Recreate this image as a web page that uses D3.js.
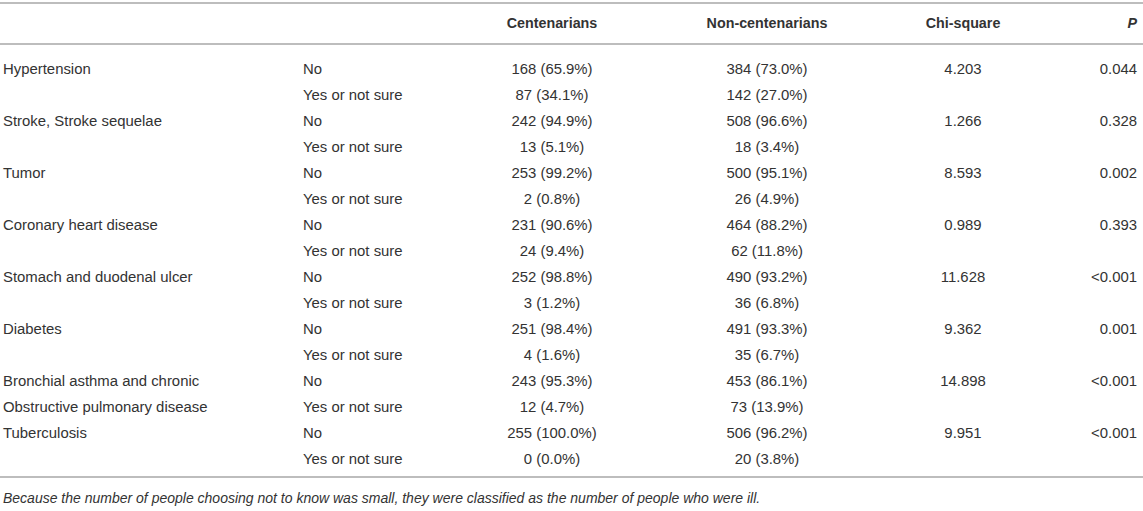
<!DOCTYPE html>
<html><head><meta charset="utf-8">
<script src="https://cdn.jsdelivr.net/npm/d3@7"></script>
<style>
html,body{margin:0;padding:0;background:#fff;}
svg{display:block;font-family:"Liberation Sans",Arial,Helvetica,sans-serif;}
</style></head><body>
<svg id="c" width="1143" height="511"></svg>
<script>
const headers = ["", "", "Centenarians", "Non-centenarians", "Chi-square", "P"];
const diseases = ["Hypertension","Stroke, Stroke sequelae","Tumor","Coronary heart disease","Stomach and duodenal ulcer","Diabetes","Bronchial asthma and chronic","Tuberculosis"];
const diseaseSecondLine = ["","","","","","","Obstructive pulmonary disease",""];
const answers = ["No","Yes or not sure"];
const centNo = ["168 (65.9%)","242 (94.9%)","253 (99.2%)","231 (90.6%)","252 (98.8%)","251 (98.4%)","243 (95.3%)","255 (100.0%)"];
const centYes = ["87 (34.1%)","13 (5.1%)","2 (0.8%)","24 (9.4%)","3 (1.2%)","4 (1.6%)","12 (4.7%)","0 (0.0%)"];
const nonNo = ["384 (73.0%)","508 (96.6%)","500 (95.1%)","464 (88.2%)","490 (93.2%)","491 (93.3%)","453 (86.1%)","506 (96.2%)"];
const nonYes = ["142 (27.0%)","18 (3.4%)","26 (4.9%)","62 (11.8%)","36 (6.8%)","35 (6.7%)","73 (13.9%)","20 (3.8%)"];
const chiSquare = ["4.203","1.266","8.593","0.989","11.628","9.362","14.898","9.951"];
const pValues = ["0.044","0.328","0.002","0.393","<0.001","0.001","<0.001","<0.001"];
const footnote = "Because the number of people choosing not to know was small, they were classified as the number of people who were ill.";

// build rows
const rows = [];
diseases.forEach((d,i)=>{
  rows.push([d, answers[0], centNo[i], nonNo[i], chiSquare[i], pValues[i]]);
  rows.push([diseaseSecondLine[i], answers[1], centYes[i], nonYes[i], "", ""]);
});

const svg = d3.select("#c");
const W = 1143;
const col = [
  {x:3, anchor:"start"},
  {x:303, anchor:"start"},
  {x:552, anchor:"middle"},
  {x:767, anchor:"middle"},
  {x:963, anchor:"middle"},
  {x:1137, anchor:"end"}
];
const y = d3.scaleBand().domain(d3.range(rows.length)).range([56, 56+26*rows.length]);
const textColor = "#333";
const lineColor = "#bdbdbd";
const fsHead = 14.3;
const fs = 14.9;

function hline(yy){
  svg.append("line").attr("x1",0).attr("x2",W).attr("y1",yy).attr("y2",yy)
    .attr("stroke",lineColor).attr("stroke-width",2);
}
hline(3); hline(44); hline(y.range()[1]+5);

svg.append("g").selectAll("text").data(headers).join("text")
  .attr("x",(d,i)=>col[i].x).attr("y",23).attr("dy","0.35em")
  .attr("text-anchor",(d,i)=>col[i].anchor)
  .attr("font-size",fsHead).attr("font-weight","bold")
  .attr("font-style",(d,i)=>i===5?"italic":"normal")
  .attr("fill",textColor).text(d=>d);

const g = svg.append("g");
rows.forEach((r,ri)=>{
  g.selectAll(null).data(r).join("text")
    .attr("x",(d,i)=>col[i].x).attr("y",y(ri)+y.bandwidth()/2).attr("dy","0.35em")
    .attr("text-anchor",(d,i)=>col[i].anchor)
    .attr("font-size",fs).attr("fill",textColor).text(d=>d);
});

svg.append("text").attr("x",3).attr("y",y.range()[1]+26).attr("dy","0.35em")
  .attr("font-size",14).attr("font-style","italic").attr("fill",textColor).text(footnote);
</script>
</body></html>
